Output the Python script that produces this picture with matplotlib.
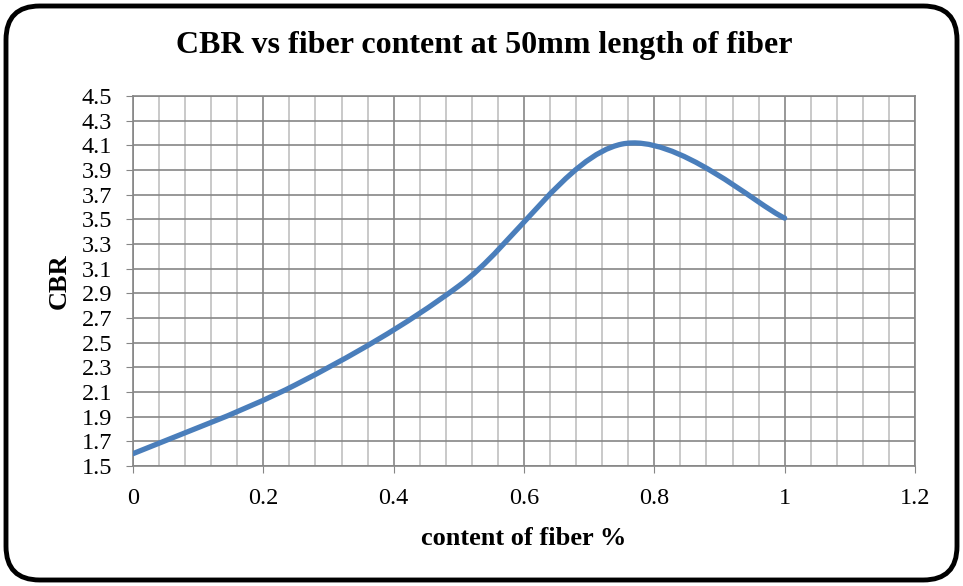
import numpy as np
import matplotlib.pyplot as plt
from matplotlib.path import Path
from matplotlib.patches import PathPatch, FancyBboxPatch
from matplotlib.ticker import MultipleLocator

# fiber content (%) and measured CBR
fiber_content = [0, 0.25, 0.5, 0.75, 1.0]
cbr = [1.6, 2.16, 2.96, 4.11, 3.51]

x_ticks = [0, 0.2, 0.4, 0.6, 0.8, 1, 1.2]
x_tick_labels = ['0', '0.2', '0.4', '0.6', '0.8', '1', '1.2']
y_ticks = np.round(np.arange(1.5, 4.51, 0.2), 1)

plt.rcParams['font.family'] = ['Liberation Serif', 'DejaVu Serif']

fig = plt.figure(figsize=(9.63, 5.86), dpi=100)
ax = fig.add_axes([133 / 963, 1 - 466 / 586, (915 - 133) / 963, (466 - 96) / 586])

#excel style smoothed line: bezier segments with control points from neighbours
def smooth_path(xs, ys):
    pts = np.column_stack([xs, ys])
    n = len(pts)
    verts = [pts[0]]
    codes = [Path.MOVETO]
    for i in range(n - 1):
        p_prev = pts[i - 1] if i > 0 else pts[i]
        p_next2 = pts[i + 2] if i + 2 < n else pts[i + 1]
        c1 = pts[i] + (pts[i + 1] - p_prev) / 6
        c2 = pts[i + 1] - (p_next2 - pts[i]) / 6
        verts += [c1, c2, pts[i + 1]]
        codes += [Path.CURVE4] * 3
    return Path(verts, codes)

ax.add_patch(PathPatch(smooth_path(fiber_content, cbr), facecolor='none',
                       edgecolor='#4a7ebb', lw=3.8, capstyle='round', zorder=3))

ax.set_xlim(0, 1.2)
ax.set_ylim(1.5, 4.5)
ax.set_xticks(x_ticks)
ax.set_xticklabels(x_tick_labels)
ax.set_yticks(y_ticks)
ax.set_yticklabels(['%.1f' % v for v in y_ticks])
ax.xaxis.set_minor_locator(MultipleLocator(0.04))

ax.grid(which='major', color='#868686', lw=1.2)
ax.grid(which='minor', axis='x', color='#c0c0c0', lw=1.2)
ax.set_axisbelow(True)
for s in ax.spines.values():
    s.set_color('#868686')
    s.set_linewidth(1.2)
ax.tick_params(which='major', length=5, color='#868686', labelsize=17.5)
ax.tick_params(which='minor', length=0)
ax.tick_params(axis='x', pad=11)
ax.tick_params(axis='y', pad=10)

ax.set_xlabel('content of fiber %', fontsize=19, fontweight='bold', labelpad=13)
ax.set_ylabel('CBR', fontsize=19, fontweight='bold', labelpad=8)
fig.text(0.503, 1 - 45 / 586, 'CBR vs fiber content at 50mm length of fiber',
         ha='center', va='center', fontsize=23, fontweight='bold')

# rounded black frame around the chart
frame = FancyBboxPatch((6 / 963, 6 / 586), 951 / 963, 574 / 586,
                       boxstyle='round,pad=0,rounding_size=0.035',
                       transform=fig.transFigure, facecolor='none',
                       edgecolor='black', lw=3.5, mutation_aspect=963 / 586)
fig.patches.append(frame)

plt.savefig('out.png', dpi=100)
